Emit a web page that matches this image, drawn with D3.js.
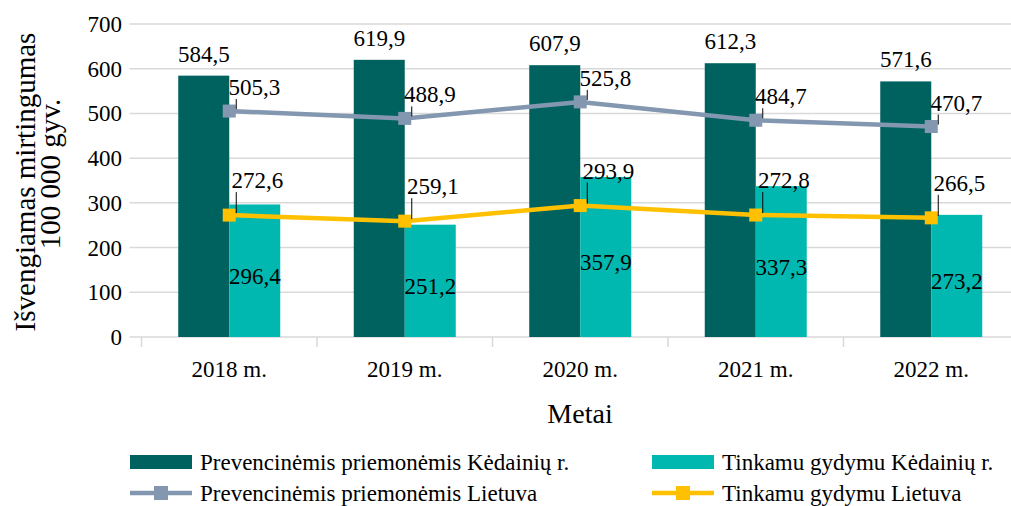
<!DOCTYPE html>
<html>
<head>
<meta charset="utf-8">
<script src="https://cdn.jsdelivr.net/npm/d3@7"></script>
<style>
  body { margin: 0; background: #fff; }
  svg { display: block; font-family: "Liberation Serif", "Times New Roman", serif; }
</style>
</head>
<body>
<div id="container"></div>
<script>
var years = ['2018 m.', '2019 m.', '2020 m.', '2021 m.', '2022 m.'];
var prevKed = [584.5, 619.9, 607.9, 612.3, 571.6];
var tinkKed = [296.4, 251.2, 357.9, 337.3, 273.2];
var prevLt = [505.3, 488.9, 525.8, 484.7, 470.7];
var tinkLt = [272.6, 259.1, 293.9, 272.8, 266.5];
var yTicks = [0, 100, 200, 300, 400, 500, 600, 700];
var seriesNames = ['Prevencinėmis priemonėmis Kėdainių r.', 'Tinkamu gydymu Kėdainių r.',
                   'Prevencinėmis priemonėmis Lietuva', 'Tinkamu gydymu Lietuva'];

var W = 1011, H = 506;
var mLeft = 141.5, mRight = 1019, mTop = 24, mBottom = 337;
var cDark = '#00625e', cTeal = '#00b8b0', cGray = '#8497b0', cYellow = '#ffc000';

var fmt = function(v) { return d3.format('.1f')(v).replace('.', ','); };

var svg = d3.select('#container').append('svg')
  .attr('width', W).attr('height', H);

var x = d3.scaleBand().domain(years).range([mLeft, mRight]);
var y = d3.scaleLinear().domain([0, 700]).range([mBottom, mTop]);
var barW = 51;
var cx = function(i) { return x(years[i]) + x.bandwidth() / 2; };

// gridlines
svg.append('g').selectAll('line').data(yTicks).enter().append('line')
  .attr('x1', mLeft - 12).attr('x2', W)
  .attr('y1', function(d) { return y(d); }).attr('y2', function(d) { return y(d); })
  .attr('stroke', '#d9d9d9').attr('stroke-width', 1.5);

// category ticks
svg.append('g').selectAll('line').data(d3.range(years.length + 1)).enter().append('line')
  .attr('x1', function(i) { return mLeft + i * x.step(); })
  .attr('x2', function(i) { return mLeft + i * x.step(); })
  .attr('y1', mBottom).attr('y2', mBottom + 10)
  .attr('stroke', '#d9d9d9').attr('stroke-width', 1.5);

// y tick labels
svg.append('g').selectAll('text').data(yTicks).enter().append('text')
  .attr('x', 122).attr('y', function(d) { return y(d); })
  .attr('dy', '0.35em').attr('text-anchor', 'end')
  .attr('font-size', 23).text(function(d) { return d; });

// x labels
svg.append('g').selectAll('text').data(years).enter().append('text')
  .attr('x', function(d, i) { return cx(i); }).attr('y', 377)
  .attr('text-anchor', 'middle').attr('font-size', 23).text(function(d) { return d; });

// bars
svg.append('g').selectAll('rect').data(prevKed).enter().append('rect')
  .attr('x', function(d, i) { return cx(i) - barW; })
  .attr('y', function(d) { return y(d); })
  .attr('width', barW).attr('height', function(d) { return mBottom - y(d); })
  .attr('fill', cDark);
svg.append('g').selectAll('rect').data(tinkKed).enter().append('rect')
  .attr('x', function(d, i) { return cx(i); })
  .attr('y', function(d) { return y(d); })
  .attr('width', barW).attr('height', function(d) { return mBottom - y(d); })
  .attr('fill', cTeal);

// bar labels
svg.append('g').selectAll('text').data(prevKed).enter().append('text')
  .attr('x', function(d, i) { return cx(i) - barW / 2; })
  .attr('y', function(d) { return y(d) - 14; })
  .attr('text-anchor', 'middle').attr('font-size', 23).text(fmt);
svg.append('g').selectAll('text').data(tinkKed).enter().append('text')
  .attr('x', function(d, i) { return cx(i) + barW / 2; })
  .attr('y', function(d) { return (y(d) + mBottom) / 2 + 5; })
  .attr('dy', '0.35em')
  .attr('text-anchor', 'middle').attr('font-size', 23).text(fmt);

// lines
var line = d3.line().x(function(d, i) { return cx(i); }).y(function(d) { return y(d); });
function drawSeries(data, color, dx, dy) {
  var g = svg.append('g');
  g.append('path').datum(data).attr('d', line)
    .attr('fill', 'none').attr('stroke', color).attr('stroke-width', 4.5);
  g.selectAll('rect').data(data).enter().append('rect')
    .attr('x', function(d, i) { return cx(i) - 6.5; })
    .attr('y', function(d) { return y(d) - 6.5; })
    .attr('width', 13).attr('height', 13).attr('fill', color);
  g.selectAll('line').data(data).enter().append('line')
    .attr('x1', function(d, i) { return cx(i) + 7; })
    .attr('x2', function(d, i) { return cx(i) + 7; })
    .attr('y1', function(d) { return y(d) - 2; })
    .attr('y2', function(d) { return y(d) + dy + 12; })
    .attr('stroke', '#000').attr('stroke-width', 1);
  g.selectAll('text').data(data).enter().append('text')
    .attr('x', function(d, i) { return cx(i) + dx; })
    .attr('y', function(d) { return y(d) + dy; })
    .attr('dy', '0.35em').attr('text-anchor', 'middle')
    .attr('font-size', 23).text(fmt);
}
drawSeries(prevLt, cGray, 25, -24);
drawSeries(tinkLt, cYellow, 28, -35);

// axis titles
svg.append('text').attr('x', 580).attr('y', 423).attr('text-anchor', 'middle')
  .attr('font-size', 28).text('Metai');
svg.append('text').attr('transform', 'translate(35,182) rotate(-90)')
  .attr('text-anchor', 'middle').attr('font-size', 29).text('Išvengiamas mirtingumas');
svg.append('text').attr('transform', 'translate(60,174) rotate(-90)')
  .attr('text-anchor', 'middle').attr('font-size', 29).text('100 000 gyv.');

// legend
var legend = [
  { name: seriesNames[0], color: cDark, type: 'bar', lx: 130, ly: 462 },
  { name: seriesNames[1], color: cTeal, type: 'bar', lx: 652, ly: 462 },
  { name: seriesNames[2], color: cGray, type: 'line', lx: 130, ly: 493 },
  { name: seriesNames[3], color: cYellow, type: 'line', lx: 652, ly: 493 }
];
var lg = svg.append('g').selectAll('g').data(legend).enter().append('g')
  .attr('transform', function(d) { return 'translate(' + d.lx + ',' + d.ly + ')'; });
lg.filter(function(d) { return d.type === 'bar'; }).append('rect')
  .attr('x', 0).attr('y', -7).attr('width', 62).attr('height', 14)
  .attr('fill', function(d) { return d.color; });
lg.filter(function(d) { return d.type === 'line'; }).append('line')
  .attr('x1', 0).attr('x2', 62).attr('y1', 0).attr('y2', 0)
  .attr('stroke', function(d) { return d.color; }).attr('stroke-width', 4.5);
lg.filter(function(d) { return d.type === 'line'; }).append('rect')
  .attr('x', 24).attr('y', -7).attr('width', 14).attr('height', 14)
  .attr('fill', function(d) { return d.color; });
lg.append('text').attr('x', 70).attr('y', 0).attr('dy', '0.35em')
  .attr('font-size', 23).text(function(d) { return d.name; });
</script>
</body>
</html>
